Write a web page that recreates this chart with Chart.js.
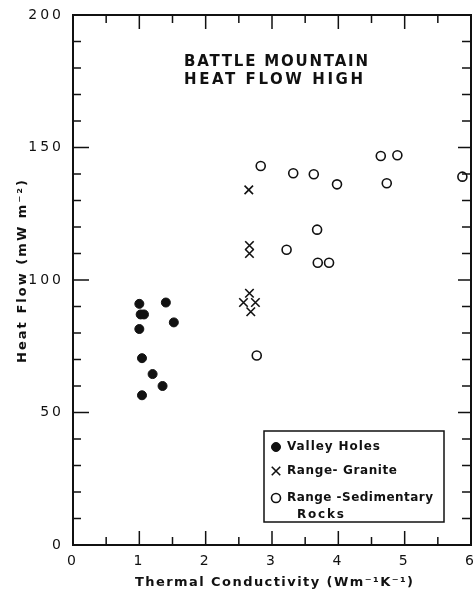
<!DOCTYPE html>
<html>
<head>
<meta charset="utf-8">
<script src="https://cdn.jsdelivr.net/npm/chart.js@4"></script>
<style>
  body { margin: 0; background: #fff; }
  canvas { display: block; }
</style>
</head>
<body>
<canvas id="chart" width="473" height="595"></canvas>
<script>
// thermal conductivity (W m-1 K-1) and heat flow (mW m-2)
var valleyK = [1.0, 1.4, 1.02, 1.07, 1.52, 1.0, 1.04, 1.2, 1.35, 1.04];
var valleyQ = [91, 91.5, 87, 87, 84, 81.5, 70.5, 64.5, 60, 56.5];

var graniteK = [2.65, 2.66, 2.66, 2.66, 2.57, 2.75, 2.68];
var graniteQ = [134, 113, 110, 95, 91.5, 91.5, 88];

var sedK = [2.83, 3.32, 3.63, 3.98, 4.64, 4.89, 4.73, 5.87, 3.68, 3.22, 3.69, 3.86, 2.77];
var sedQ = [143, 140.3, 139.9, 136.1, 146.8, 147.1, 136.5, 139, 119, 111.4, 106.5, 106.5, 71.5];

var xTicks = [0, 1, 2, 3, 4, 5, 6];
var yTicks = [0, 50, 100, 150, 200];

var titleLines = ["BATTLE MOUNTAIN", "HEAT FLOW HIGH"];
var legendNames = ["Valley Holes", "Range- Granite", "Range -Sedimentary", "Rocks"];
var xTitle = "Thermal Conductivity (Wm\u207B\u00B9K\u207B\u00B9)";
var yTitle = "Heat Flow (mW m\u207B\u00B2)";

const toXY = (xs, ys) => xs.map((x, i) => ({x: x, y: ys[i]}));

// text stretched to a given width with letter spacing
function spaced(ctx, text, x, y, width) {
  ctx.letterSpacing = "0px";
  var w = ctx.measureText(text).width;
  var sp = (width - w) / (text.length - 1);
  ctx.letterSpacing = sp + "px";
  ctx.textAlign = "left";
  ctx.textBaseline = "middle";
  ctx.fillText(text, x, y);
  ctx.letterSpacing = "0px";
}

const deco = {
  id: "deco",
  beforeDraw(chart) {
    // wide lettering for the tick labels
    chart.ctx.letterSpacing = "3px";
  },
  afterDraw(chart) {
    var ctx = chart.ctx, a = chart.chartArea;
    var xs = chart.scales.x, ys = chart.scales.y;
    ctx.save();
    ctx.letterSpacing = "0px";
    ctx.strokeStyle = "#111";
    ctx.fillStyle = "#111";

    // frame
    ctx.lineWidth = 2;
    ctx.strokeRect(a.left, a.top, a.right - a.left, a.bottom - a.top);

    // inward ticks on all sides
    ctx.lineWidth = 1.5;
    ctx.beginPath();
    for (var v = 0; v <= 6; v += 0.5) {
      var px = xs.getPixelForValue(v);
      var big = v % 1 === 0;
      ctx.moveTo(px, a.bottom); ctx.lineTo(px, a.bottom - (big ? 14 : 8));
      ctx.moveTo(px, a.top); ctx.lineTo(px, a.top + (big ? 14 : 8));
    }
    for (var q = 0; q <= 200; q += 10) {
      var py = ys.getPixelForValue(q);
      var major = q % 50 === 0;
      ctx.moveTo(a.left, py); ctx.lineTo(a.left + (major ? 16 : 8), py);
      ctx.moveTo(a.right, py); ctx.lineTo(a.right - (major ? 13 : 9), py);
    }
    ctx.stroke();

    // title inside the plot
    ctx.font = 'bold 15px "DejaVu Sans"';
    spaced(ctx, titleLines[0], 184, 62, 184);
    spaced(ctx, titleLines[1], 184, 80, 179);

    // axis titles
    ctx.font = 'bold 13px "DejaVu Sans"';
    spaced(ctx, xTitle, 135, 583, 278);
    ctx.save();
    ctx.translate(23, 363);
    ctx.rotate(-Math.PI / 2);
    spaced(ctx, yTitle, 0, 0, 183);
    ctx.restore();

    // legend box
    ctx.lineWidth = 1.5;
    ctx.strokeRect(264, 431, 180, 91);
    var sets = chart.data.datasets;
    var rows = [447, 471, 498];
    for (var i = 0; i < 3; i++) {
      var ds = sets[i];
      ctx.fillStyle = ds.backgroundColor;
      ctx.strokeStyle = ds.borderColor;
      ctx.lineWidth = ds.borderWidth;
      Chart.helpers.drawPoint(ctx, {pointStyle: ds.pointStyle, radius: ds.pointRadius, rotation: 0, borderWidth: ds.borderWidth}, 276, rows[i]);
    }
    ctx.fillStyle = "#111";
    ctx.font = 'bold 12px "DejaVu Sans"';
    spaced(ctx, legendNames[0], 287, 447, 93);
    spaced(ctx, legendNames[1], 287, 471, 110);
    spaced(ctx, legendNames[2], 287, 498, 146);
    spaced(ctx, legendNames[3], 297, 515, 47);
    ctx.restore();
  }
};

new Chart("chart", {
  type: "scatter",
  data: {
    datasets: [
      {
        label: legendNames[0],
        data: toXY(valleyK, valleyQ),
        pointStyle: "circle",
        pointRadius: 4.5,
        backgroundColor: "#111",
        borderColor: "#111",
        borderWidth: 1
      },
      {
        label: legendNames[1],
        data: toXY(graniteK, graniteQ),
        pointStyle: "crossRot",
        pointRadius: 6,
        backgroundColor: "#111",
        borderColor: "#111",
        borderWidth: 1.6
      },
      {
        label: legendNames[2] + " " + legendNames[3],
        data: toXY(sedK, sedQ),
        pointStyle: "circle",
        pointRadius: 4.5,
        backgroundColor: "rgba(0,0,0,0)",
        borderColor: "#111",
        borderWidth: 1.6
      }
    ]
  },
  options: {
    responsive: false,
    animation: false,
    devicePixelRatio: 1,
    layout: {autoPadding: false, padding: {top: 15, right: 2, bottom: 4, left: 14}},
    plugins: {
      legend: {display: false},
      tooltip: {enabled: false}
    },
    scales: {
      x: {
        type: "linear",
        min: 0, max: 6,
        afterFit: (s) => { s.height = 46; s.paddingRight = 0; s.paddingLeft = 0; },
        afterBuildTicks: (s) => { s.ticks = xTicks.map(v => ({value: v})); },
        grid: {display: false, drawTicks: false},
        border: {display: false},
        ticks: {
          padding: 8,
          color: "#111",
          font: {family: "DejaVu Sans", size: 14}
        }
      },
      y: {
        type: "linear",
        min: 0, max: 200,
        afterFit: (s) => { s.width = 59; s.paddingTop = 0; s.paddingBottom = 0; },
        afterBuildTicks: (s) => { s.ticks = yTicks.map(v => ({value: v})); },
        grid: {display: false, drawTicks: false},
        border: {display: false},
        ticks: {
          padding: 9,
          color: "#111",
          font: {family: "DejaVu Sans", size: 14}
        }
      }
    }
  },
  plugins: [deco]
});
</script>
</body>
</html>
